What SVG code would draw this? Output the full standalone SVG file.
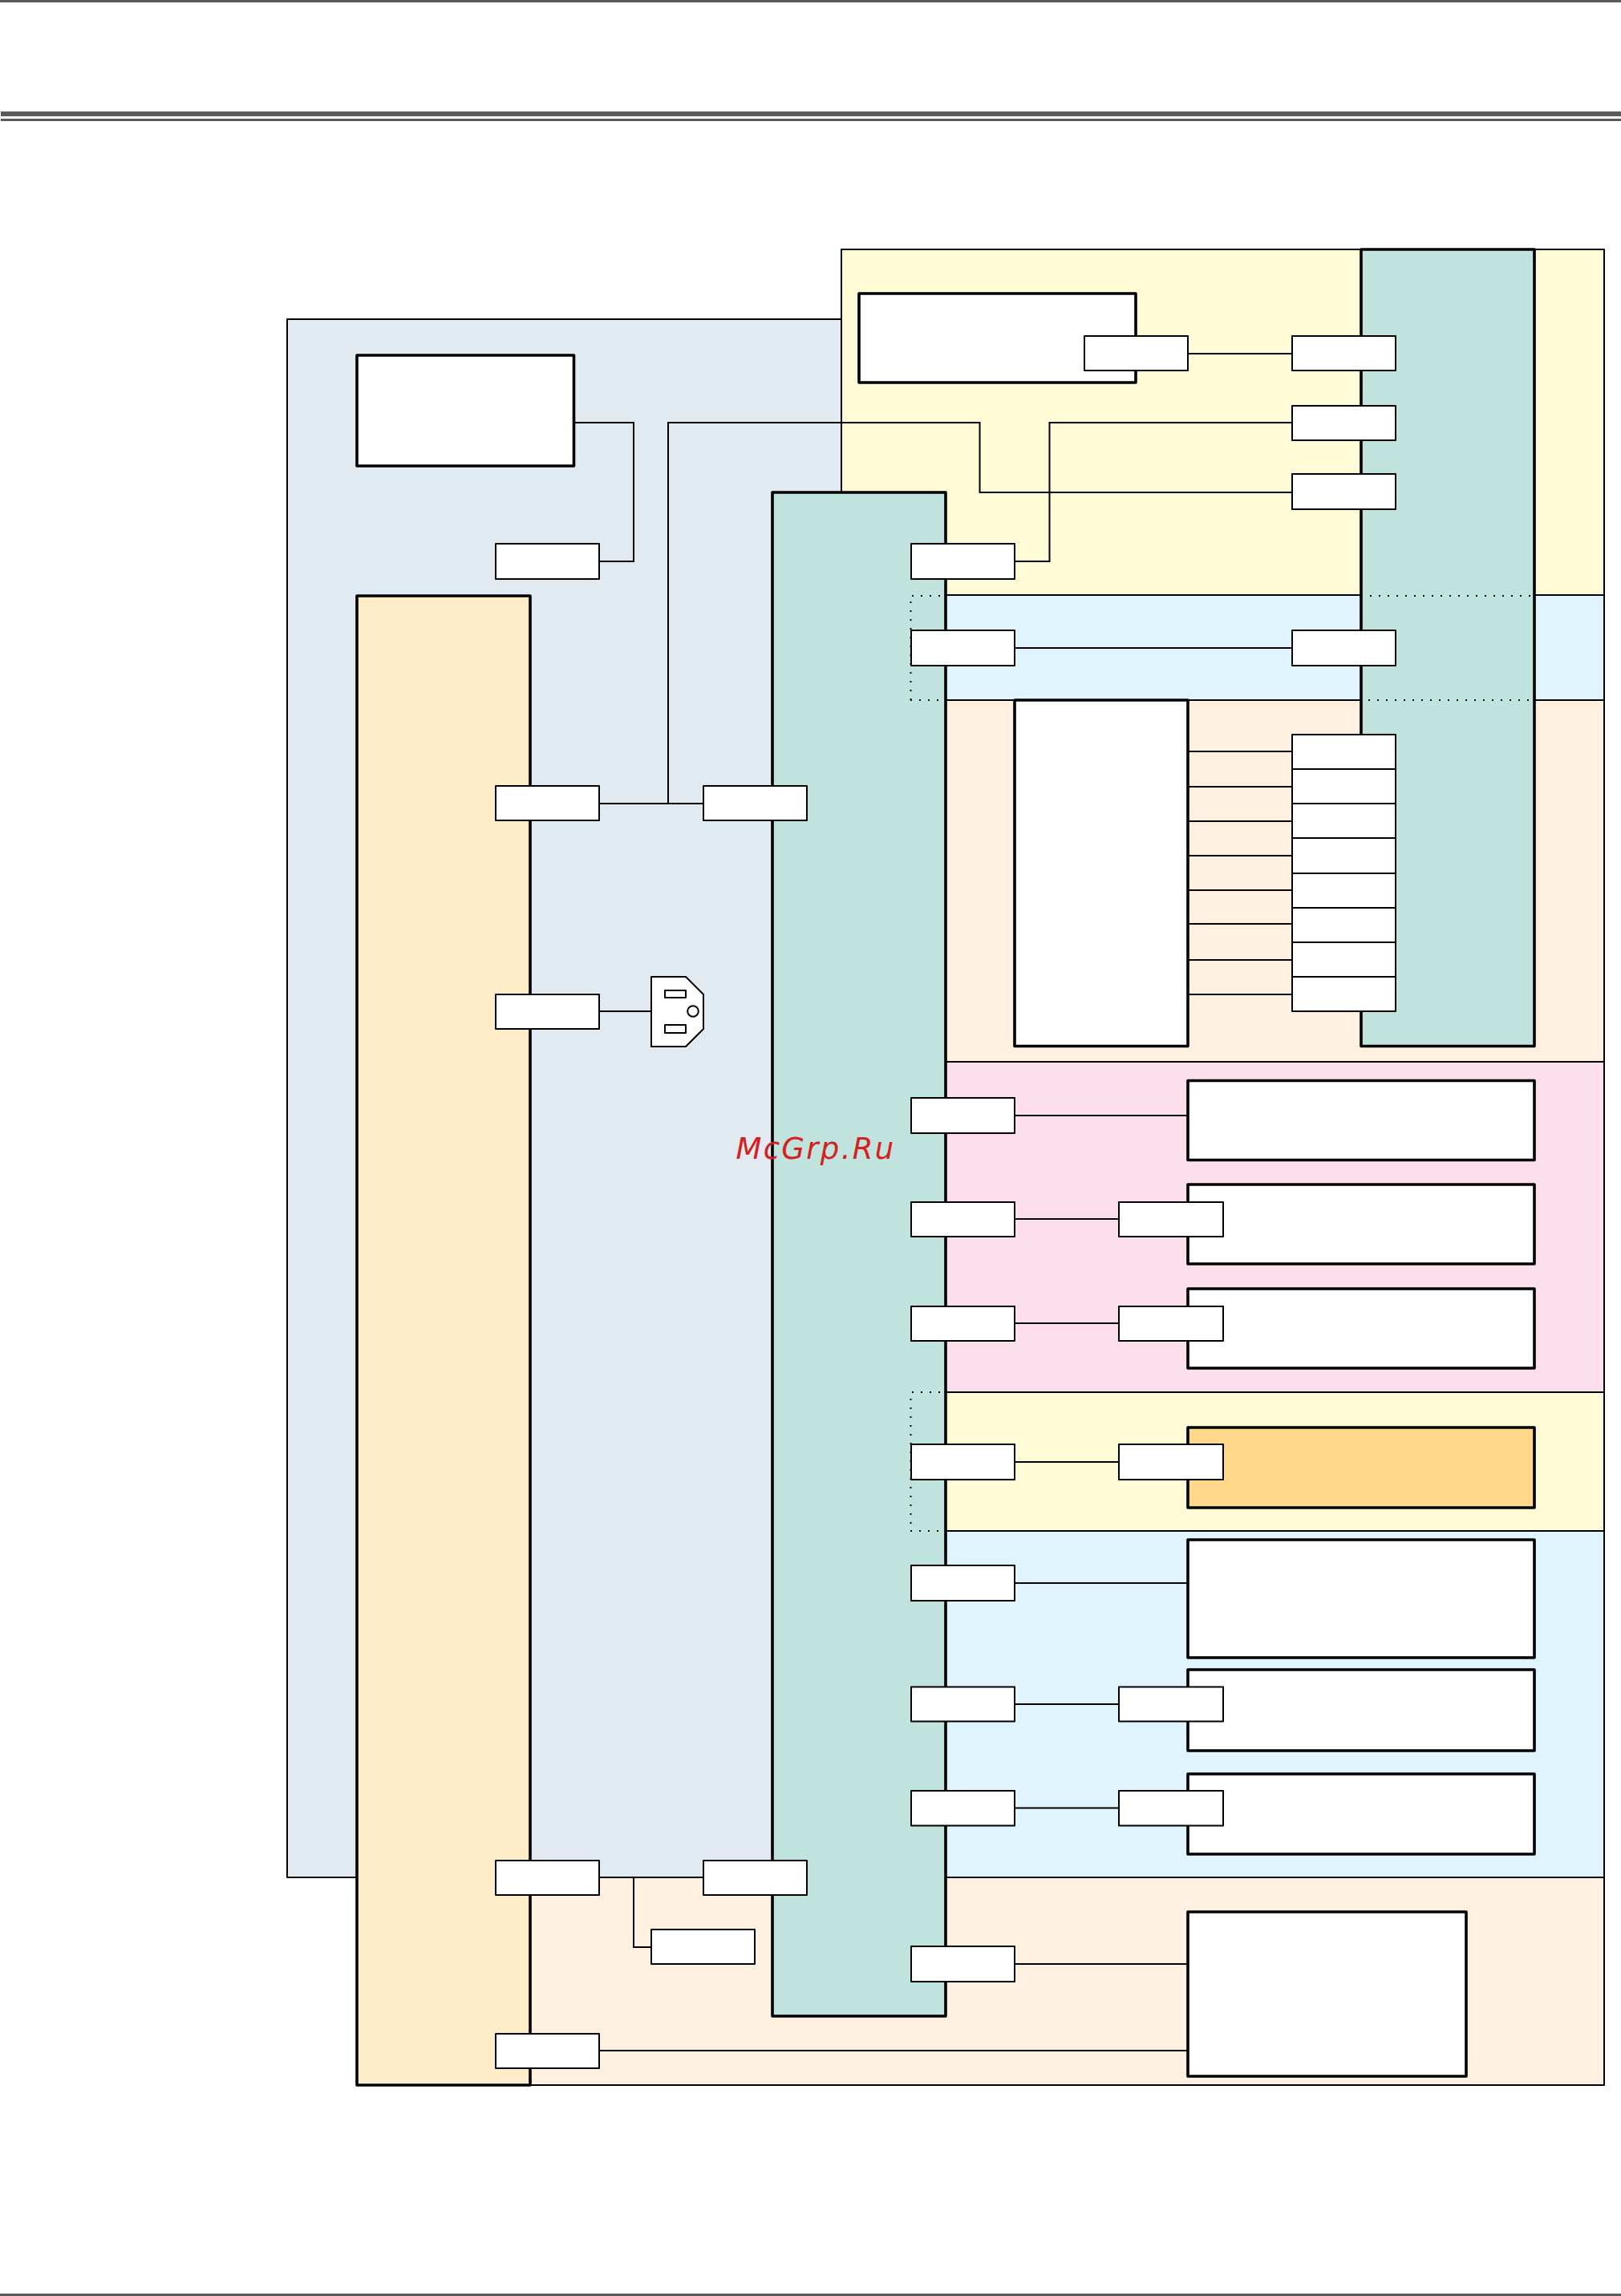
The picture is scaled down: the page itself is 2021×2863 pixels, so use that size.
<svg xmlns="http://www.w3.org/2000/svg" width="2021" height="2863" viewBox="0 0 2021 2863">
<style>
.r{stroke:#000;stroke-width:2;stroke-linejoin:round}
.t{stroke:#000;stroke-width:3.600;stroke-linejoin:round}
.b{fill:#fff;stroke:#000;stroke-width:2;stroke-linejoin:round}
.w{fill:#fff}
.c{fill:none;stroke:#000;stroke-width:2}
.d{fill:none;stroke:#000;stroke-width:2;stroke-dasharray:2 9}
.h{fill:#5a5a5a}
</style>
<g id="header"><rect class="h" x="0" y="0" width="2021" height="3"/><rect class="h" x="1" y="139" width="2020" height="6"/><rect class="h" x="1" y="148" width="2020" height="3"/><rect class="h" x="0" y="2860" width="2021" height="3"/></g>
<g id="regions">
<path id="region-base" class="r" fill="#e1e9f1" d="M358 398H1049V2341H358Z"/>
<rect id="region-yellow-top" class="r" fill="#fffbd6" x="1049" y="311" width="951" height="431"/>
<rect id="region-blue-top" class="r" fill="#e0f4ff" x="1179" y="742" width="821" height="131"/>
<rect id="region-peach-top" class="r" fill="#fff0e0" x="1179" y="873" width="821" height="451"/>
<rect id="region-pink" class="r" fill="#fcdeed" x="1179" y="1324" width="821" height="412"/>
<rect id="region-yellow-mid" class="r" fill="#fffbd6" x="1179" y="1736" width="821" height="173"/>
<rect id="region-blue-low" class="r" fill="#e0f4ff" x="1179" y="1909" width="821" height="432"/>
<rect id="region-peach-low" class="r" fill="#fff0e0" x="661" y="2341" width="1339" height="259"/>
</g>
<g id="bar-orange"><rect class="t" fill="#feedc8" x="445" y="743" width="216" height="1857"/></g>
<g id="bar-green-left"><rect class="t" fill="#c0e4dd" x="963" y="614" width="216" height="1900"/></g>
<g id="bar-green-right"><rect class="t" fill="#c0e4dd" x="1697" y="311" width="216" height="993.500"/></g>
<g id="dotted">
<path class="d" d="M1137 743H1179M1135.500 750V873M1135 873H1179M1708 743H1912M1706 873H1912M1137 1736H1179M1135.500 1744V1909M1135 1909H1179"/>
</g>
<g id="node-top-left"><rect class="t w" x="445" y="443" width="270.500" height="138"/></g>
<g id="node-top-mid"><rect class="t w" x="1071" y="366" width="345" height="111"/></g>
<g id="node-tall"><rect class="t w" x="1265" y="873" width="216" height="431.500"/></g>
<g id="node-pink-1"><rect class="t w" x="1481" y="1347.500" width="432" height="99"/></g>
<g id="node-pink-2"><rect class="t w" x="1481" y="1477" width="432" height="99"/></g>
<g id="node-pink-3"><rect class="t w" x="1481" y="1607" width="432" height="99"/></g>
<g id="node-orange"><rect class="t" fill="#ffd88c" x="1481" y="1780" width="432" height="100"/></g>
<g id="node-blue-1"><rect class="t w" x="1481" y="1920" width="432" height="147"/></g>
<g id="node-blue-2"><rect class="t w" x="1481" y="2082" width="432" height="101"/></g>
<g id="node-blue-3"><rect class="t w" x="1481" y="2212" width="432" height="100"/></g>
<g id="node-bottom"><rect class="t w" x="1481" y="2384" width="347" height="205"/></g>
<g id="connectors">
<path class="c" d="M715 527H790V700H747"/>
<path class="c" d="M747 1002H877M833 1002V527H1221.500V614H1611"/>
<path class="c" d="M1265 700H1308.500V527H1611"/>
<path class="c" d="M1481 441H1611"/>
<path class="c" d="M1265 808H1611"/>
<path class="c" d="M1481 937H1611M1481 981H1611M1481 1024H1611M1481 1067H1611M1481 1110H1611M1481 1152H1611M1481 1197H1611M1481 1240H1611"/>
<path class="c" d="M747 1261H812"/>
<path class="c" d="M1265 1391H1481"/>
<path class="c" d="M1265 1520H1395"/>
<path class="c" d="M1265 1650H1395"/>
<path class="c" d="M1265 1823H1395"/>
<path class="c" d="M1265 1974H1481"/>
<path class="c" d="M1265 2125H1395"/>
<path class="c" d="M1265 2254.500H1395"/>
<path class="c" d="M1265 2449H1481"/>
<path class="c" d="M747 2341H877M790 2341V2428H812"/>
<path class="c" d="M747 2557H1481"/>
</g>
<g id="plug"><path class="b" d="M812 1218H855L877 1240V1283L855 1305H812Z"/><rect class="b" x="829" y="1235" width="26" height="9"/><rect class="b" x="829" y="1278" width="26" height="10"/><circle class="b" cx="864" cy="1261" r="6.800"/></g>
<g id="p1"><rect class="b" x="618" y="678" width="129" height="44"/></g>
<g id="p2"><rect class="b" x="618" y="980" width="129" height="43"/></g>
<g id="p3"><rect class="b" x="618" y="1240" width="129" height="43"/></g>
<g id="p4"><rect class="b" x="618" y="2320" width="129" height="43"/></g>
<g id="p5"><rect class="b" x="618" y="2536" width="129" height="43"/></g>
<g id="p6"><rect class="b" x="877" y="980" width="129" height="43"/></g>
<g id="p7"><rect class="b" x="877" y="2320" width="129" height="43"/></g>
<g id="p8"><rect class="b" x="812" y="2406" width="129" height="43"/></g>
<g id="q1"><rect class="b" x="1136" y="678" width="129" height="44"/></g>
<g id="q2"><rect class="b" x="1136" y="786" width="129" height="44"/></g>
<g id="q3"><rect class="b" x="1136" y="1369" width="129" height="44"/></g>
<g id="q4"><rect class="b" x="1136" y="1499" width="129" height="43"/></g>
<g id="q5"><rect class="b" x="1136" y="1629" width="129" height="43"/></g>
<g id="q6"><rect class="b" x="1136" y="1801" width="129" height="44"/></g>
<g id="q7"><rect class="b" x="1136" y="1952" width="129" height="44"/></g>
<g id="q8"><rect class="b" x="1136" y="2103.500" width="129" height="43"/></g>
<g id="q9"><rect class="b" x="1136" y="2233" width="129" height="43.500"/></g>
<g id="q10"><rect class="b" x="1136" y="2427" width="129" height="44"/></g>
<g id="s1"><rect class="b" x="1352" y="419" width="129" height="43"/></g>
<g id="s2"><rect class="b" x="1395" y="1499" width="130" height="43"/></g>
<g id="s3"><rect class="b" x="1395" y="1629" width="130" height="43"/></g>
<g id="s4"><rect class="b" x="1395" y="1801" width="130" height="44"/></g>
<g id="s5"><rect class="b" x="1395" y="2103.500" width="130" height="43"/></g>
<g id="s6"><rect class="b" x="1395" y="2233" width="130" height="43.500"/></g>
<g id="r1"><rect class="b" x="1611" y="419" width="129" height="43"/></g>
<g id="r2"><rect class="b" x="1611" y="506" width="129" height="43"/></g>
<g id="r3"><rect class="b" x="1611" y="591" width="129" height="44"/></g>
<g id="r4"><rect class="b" x="1611" y="786" width="129" height="44"/></g>
<g id="r5"><rect class="b" x="1611" y="916" width="129" height="43"/></g>
<g id="r6"><rect class="b" x="1611" y="959" width="129" height="43"/></g>
<g id="r7"><rect class="b" x="1611" y="1002" width="129" height="43"/></g>
<g id="r8"><rect class="b" x="1611" y="1045" width="129" height="44"/></g>
<g id="r9"><rect class="b" x="1611" y="1089" width="129" height="43"/></g>
<g id="r10"><rect class="b" x="1611" y="1132" width="129" height="43"/></g>
<g id="r11"><rect class="b" x="1611" y="1175" width="129" height="43"/></g>
<g id="r12"><rect class="b" x="1611" y="1218" width="129" height="43"/></g>
<text x="917.500" y="1445" font-family="DejaVu Sans, sans-serif" font-style="italic" font-size="37" letter-spacing="2.300" fill="#d42020">McGrp.Ru</text>
</svg>
